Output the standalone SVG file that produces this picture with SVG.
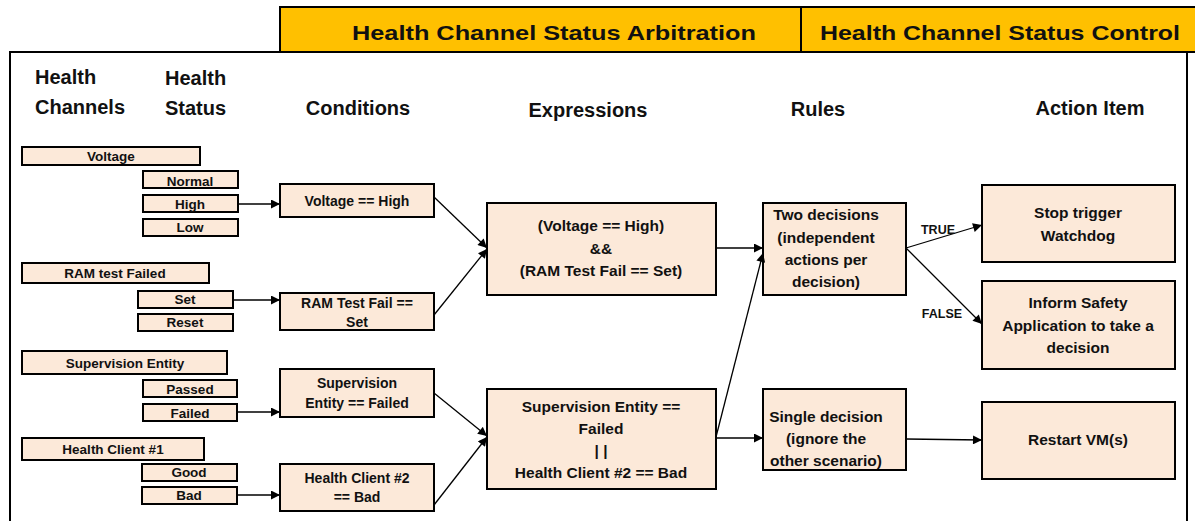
<svg xmlns="http://www.w3.org/2000/svg" width="1195" height="521" viewBox="0 0 1195 521">
  <defs>
    <marker id="arrow" viewBox="0 0 10 10" refX="10" refY="5" markerWidth="10" markerHeight="9" markerUnits="userSpaceOnUse" orient="auto">
      <path d="M0,0 L10,5 L0,10 z" fill="#000"/>
    </marker>
    <style>
      text { font-family: "Liberation Sans", Arial, sans-serif; font-weight: bold; fill: #111; }
      .hdr { font-size: 20px; }
      .ban { font-size: 21px; text-anchor: middle; }
      .sm { font-size: 13.5px; text-anchor: middle; }
      .md { font-size: 14px; text-anchor: middle; }
      .lg { font-size: 15.5px; text-anchor: middle; }
      .lbl { font-size: 12.5px; text-anchor: middle; }
      .box { fill: #FCE9D9; stroke: #000; stroke-width: 2; }
      .edge { fill: none; stroke: #000; stroke-width: 1.3; marker-end: url(#arrow); }
      .frame { fill: none; stroke: #000; stroke-width: 2; }
    </style>
  </defs>

  <rect width="1195" height="521" fill="#fff"/>

  <!-- title banner -->
  <g id="banner">
    <rect x="280" y="7" width="920" height="45" fill="#FFC000" stroke="#000" stroke-width="2"/>
    <line x1="801" y1="7" x2="801" y2="52" stroke="#000" stroke-width="2"/>
    <text class="ban" x="554" y="40" textLength="404" lengthAdjust="spacingAndGlyphs">Health Channel Status Arbitration</text>
    <text class="ban" x="1000" y="40" textLength="360" lengthAdjust="spacingAndGlyphs">Health Channel Status Control</text>
  </g>

  <!-- outer frame -->
  <path class="frame" d="M10,521 V52 H280 M1187,52 V521"/>

  <!-- column headers -->
  <g id="headers">
    <text class="hdr" x="35" y="84">Health</text>
    <text class="hdr" x="35" y="114">Channels</text>
    <text class="hdr" x="165" y="85">Health</text>
    <text class="hdr" x="165" y="115">Status</text>
    <text class="hdr" x="358" y="115" text-anchor="middle">Conditions</text>
    <text class="hdr" x="588" y="117" text-anchor="middle">Expressions</text>
    <text class="hdr" x="818" y="116" text-anchor="middle">Rules</text>
    <text class="hdr" x="1090" y="115" text-anchor="middle">Action Item</text>
  </g>

  <!-- health channels and their states -->
  <g id="ch-voltage"><rect class="box" x="22" y="147" width="178" height="18"/><text class="sm" x="111" y="161">Voltage</text></g>
  <g id="st-normal"><rect class="box" x="143" y="171" width="95" height="17"/><text class="sm" x="190" y="186">Normal</text></g>
  <g id="st-high"><rect class="box" x="143" y="195" width="95" height="17"/><text class="sm" x="190" y="209">High</text></g>
  <g id="st-low"><rect class="box" x="143" y="219" width="95" height="17"/><text class="sm" x="190" y="232">Low</text></g>

  <g id="ch-ram"><rect class="box" x="22" y="263" width="187" height="20"/><text class="sm" x="115" y="278">RAM test Failed</text></g>
  <g id="st-set"><rect class="box" x="138" y="291" width="95" height="17"/><text class="sm" x="185" y="304">Set</text></g>
  <g id="st-reset"><rect class="box" x="138" y="314" width="95" height="17"/><text class="sm" x="185" y="327">Reset</text></g>

  <g id="ch-supervision"><rect class="box" x="22" y="351" width="205" height="23"/><text class="sm" x="125" y="368">Supervision Entity</text></g>
  <g id="st-passed"><rect class="box" x="143" y="380" width="94" height="17"/><text class="sm" x="190" y="394">Passed</text></g>
  <g id="st-failed"><rect class="box" x="143" y="404" width="94" height="17"/><text class="sm" x="190" y="418">Failed</text></g>

  <g id="ch-client"><rect class="box" x="22" y="438" width="182" height="22"/><text class="sm" x="113" y="454">Health Client #1</text></g>
  <g id="st-good"><rect class="box" x="142" y="464" width="95" height="17"/><text class="sm" x="189" y="477">Good</text></g>
  <g id="st-bad"><rect class="box" x="142" y="487" width="95" height="17"/><text class="sm" x="189" y="500">Bad</text></g>

  <!-- conditions -->
  <g id="cond-voltage"><rect class="box" x="280" y="184" width="154" height="33"/><text class="md" x="357" y="206">Voltage == High</text></g>
  <g id="cond-ram"><rect class="box" x="280" y="293" width="154" height="37"/><text class="md" x="357" y="308">RAM Test Fail ==</text><text class="md" x="357" y="327">Set</text></g>
  <g id="cond-supervision"><rect class="box" x="280" y="369" width="154" height="48"/><text class="md" x="357" y="388">Supervision</text><text class="md" x="357" y="408">Entity == Failed</text></g>
  <g id="cond-client"><rect class="box" x="280" y="464" width="154" height="47"/><text class="md" x="357" y="483">Health Client #2</text><text class="md" x="357" y="502">== Bad</text></g>

  <!-- expressions -->
  <g id="expr-and"><rect class="box" x="487" y="203" width="229" height="92"/>
    <text class="lg" x="601" y="231">(Voltage == High)</text>
    <text class="lg" x="601" y="254">&amp;&amp;</text>
    <text class="lg" x="601" y="276">(RAM Test Fail == Set)</text>
  </g>
  <g id="expr-or"><rect class="box" x="487" y="389" width="229" height="100"/>
    <text class="lg" x="601" y="412">Supervision Entity ==</text>
    <text class="lg" x="601" y="434">Failed</text>
    <text class="lg" x="601" y="456">| |</text>
    <text class="lg" x="601" y="478">Health Client #2 == Bad</text>
  </g>

  <!-- rules -->
  <g id="rule-two"><rect class="box" x="763" y="203" width="143" height="92"/>
    <text class="lg" x="826" y="220">Two decisions</text>
    <text class="lg" x="826" y="243">(independent</text>
    <text class="lg" x="826" y="265">actions per</text>
    <text class="lg" x="826" y="287">decision)</text>
  </g>
  <g id="rule-single"><rect class="box" x="763" y="389" width="143" height="81"/>
    <text class="lg" x="826" y="422">Single decision</text>
    <text class="lg" x="826" y="444">(ignore the</text>
    <text class="lg" x="826" y="466">other scenario)</text>
  </g>

  <!-- action items -->
  <g id="act-watchdog"><rect class="box" x="982" y="185" width="193" height="77"/>
    <text class="lg" x="1078" y="218">Stop trigger</text>
    <text class="lg" x="1078" y="241">Watchdog</text>
  </g>
  <g id="act-inform"><rect class="box" x="982" y="281" width="193" height="88"/>
    <text class="lg" x="1078" y="308">Inform Safety</text>
    <text class="lg" x="1078" y="331">Application to take a</text>
    <text class="lg" x="1078" y="353">decision</text>
  </g>
  <g id="act-restart"><rect class="box" x="982" y="402" width="193" height="77"/>
    <text class="lg" x="1078" y="445">Restart VM(s)</text>
  </g>

  <!-- connectors -->
  <g id="connectors">
    <line class="edge" x1="238" y1="204" x2="280" y2="204"/>
    <line class="edge" x1="233" y1="300" x2="280" y2="300"/>
    <line class="edge" x1="237" y1="412" x2="280" y2="412"/>
    <line class="edge" x1="237" y1="495" x2="280" y2="495"/>

    <line class="edge" x1="434" y1="197" x2="487" y2="248"/>
    <line class="edge" x1="434" y1="315" x2="487" y2="249"/>
    <line class="edge" x1="434" y1="393" x2="487" y2="436"/>
    <line class="edge" x1="434" y1="505" x2="487" y2="437"/>

    <line class="edge" x1="716" y1="248" x2="763" y2="248"/>
    <line class="edge" x1="716" y1="437" x2="763" y2="253"/>
    <line class="edge" x1="716" y1="438" x2="763" y2="438"/>

    <line class="edge" x1="906" y1="248" x2="982" y2="225"/>
    <line class="edge" x1="906" y1="248" x2="982" y2="324"/>
    <line class="edge" x1="906" y1="439" x2="982" y2="440"/>

    <text class="lbl" x="938" y="234">TRUE</text>
    <text class="lbl" x="942" y="318">FALSE</text>
  </g>
</svg>
